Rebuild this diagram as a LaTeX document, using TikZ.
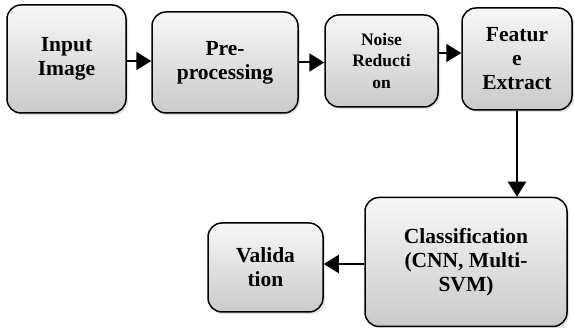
\documentclass[tikz,border=0pt]{standalone}
\usepackage{fontspec}
\setmainfont{Liberation Serif}
\usetikzlibrary{arrows.meta,shapes,positioning,calc,shadows}

\tikzset{
    stagebox/.style={draw, line width=1.5pt, rounded corners=14pt, top color=gray!6, bottom color=gray!42,
        drop shadow={shadow xshift=2pt, shadow yshift=-2pt, fill=gray!45}, align=center,
        font=\bfseries\fontsize{21.5}{24}\selectfont, inner sep=2pt},
    flowarrow/.style={-{Triangle[length=15pt,width=18pt]}, line width=2pt}
}

\begin{document}
\begin{tikzpicture}[x=1pt, y=-1pt]
    \useasboundingbox (0,0) rectangle (574,328);

    % Top row of stages
    \node[stagebox, minimum width=119pt, minimum height=108pt] (inp) at (66.5,59) {Input\\Image};
    \node[stagebox, minimum width=146pt, minimum height=101pt] (pre) at (225,62.5) {Pre-\\processing};
    \node[stagebox, minimum width=113pt, minimum height=92pt, font=\bfseries\fontsize{17.5}{21.5}\selectfont] (noise) at (381.5,61) {Noise\\Reducti\\on};
    \node[stagebox, minimum width=110pt, minimum height=102pt] (feat) at (517,59) {Featur\\e\\Extract};

    % Bottom row
    \node[stagebox, minimum width=202pt, minimum height=129pt] (cls) at (466,262) {Classification\\(CNN, Multi-\\SVM)};
    \node[stagebox, minimum width=115pt, minimum height=89pt] (val) at (265.5,267.5) {Valida\\tion};

    % Connectors
    \draw[flowarrow] ([yshift=-2pt]inp.east) -- ([yshift=-2pt]inp.east -| pre.west);
    \draw[flowarrow] (pre.east) -- (pre.east -| noise.west);
    \draw[flowarrow] ([yshift=8pt]noise.east) -- ([yshift=8pt]noise.east -| feat.west);
    \draw[flowarrow] (feat.south) -- (feat.south |- cls.north);
    \draw[flowarrow] ([yshift=-2pt]cls.west) -- ([yshift=-2pt]cls.west -| val.east);
\end{tikzpicture}
\end{document}
